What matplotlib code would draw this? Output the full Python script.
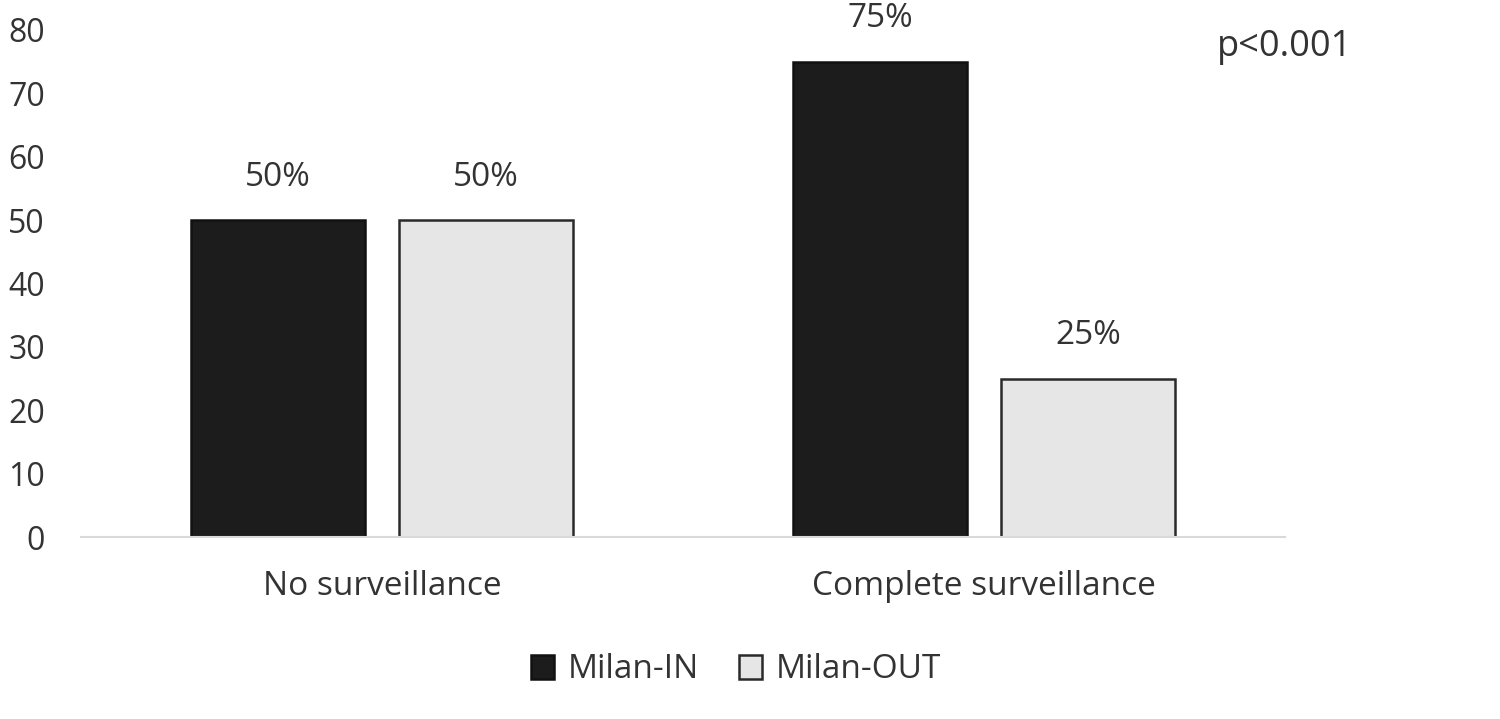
import numpy as np
import matplotlib.pyplot as plt

categories = ["No surveillance", "Complete surveillance"]
milan_in = [50, 75]
milan_out = [50, 25]
labels_in = ["50%", "75%"]
labels_out = ["50%", "25%"]
yticks = [0, 10, 20, 30, 40, 50, 60, 70, 80]

plt.rcParams['font.family'] = ['Open Sans', 'DejaVu Sans']
txt = '#333333'

fig = plt.figure(figsize=(15, 7.19), dpi=100)
ax = fig.add_axes([81/1500, 1-537/719, 1204/1500, 507/719])

x = np.arange(len(categories))
w = 0.29
off = 0.173
b1 = ax.bar(x - off, milan_in, w, color='#1c1c1c', edgecolor='#111111', lw=1.8, label='Milan-IN')
b2 = ax.bar(x + off, milan_out, w, color='#e6e6e6', edgecolor='#2a2a2a', lw=1.8, label='Milan-OUT')

for bars, labs in [(b1, labels_in), (b2, labels_out)]:
    for rect, lab in zip(bars, labs):
        ax.annotate(lab, (rect.get_x() + rect.get_width()/2, rect.get_height()),
                    xytext=(0, 31), textcoords='offset points', ha='center', va='center',
                    fontsize=24, color=txt, annotation_clip=False)

ax.set_xlim(-0.5, 1.5)
ax.set_ylim(0, 80)
ax.set_yticks(yticks)
ax.set_xticks(x)
ax.set_xticklabels(categories)
ax.tick_params(axis='y', length=0, pad=26, labelsize=23, labelcolor=txt)
ax.tick_params(axis='x', length=0, pad=24, labelsize=24, labelcolor=txt)
for s in ['top', 'right', 'left']:
    ax.spines[s].set_visible(False)
ax.spines['bottom'].set_color('#d9d9d9')
ax.spines['bottom'].set_linewidth(1.5)

fig.text(1285/1500, 1-47/719, 'p<0.001', ha='center', va='center', fontsize=26, color=txt)

fig.legend(handles=[b1, b2], loc='center', bbox_to_anchor=(736/1500, 1-670/719), ncol=2,
           frameon=False, fontsize=24, handlelength=0.7, handleheight=0.7,
           handletextpad=0.4, columnspacing=1.2, labelcolor=txt)

fig.savefig('out.png', dpi=100)
